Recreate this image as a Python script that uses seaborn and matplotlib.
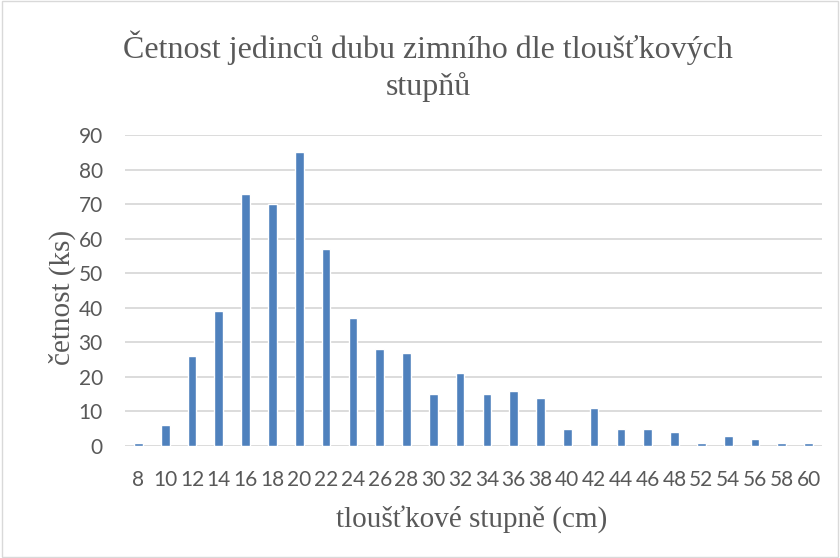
import matplotlib
matplotlib.use("Agg")
import matplotlib.pyplot as plt
import seaborn as sns
import pandas as pd
from matplotlib.patches import Rectangle

categories = ["8", "10", "12", "14", "16", "18", "20", "22", "24", "26", "28", "30", "32",
              "34", "36", "38", "40", "42", "44", "46", "48", "52", "54", "56", "58", "60"]
counts = [1, 6, 26, 39, 73, 70, 85, 57, 37, 28, 27, 15, 21,
          15, 16, 14, 5, 11, 5, 5, 4, 1, 3, 2, 1, 1]
yticks = [0, 10, 20, 30, 40, 50, 60, 70, 80, 90]

df = pd.DataFrame({"stupen": categories, "cetnost": counts})

sns.set_style("white")
fig = plt.figure(figsize=(8.4, 5.58), dpi=100)
ax = fig.add_axes([125 / 840, 1 - 446 / 558, 697 / 840, 311 / 558])

sns.barplot(data=df, x="stupen", y="cetnost", order=categories, color="#4f81bd",
            saturation=1, width=0.325, ax=ax, zorder=3)
ax.set_ylim(0, 90)
ax.set_xlim(-0.5, len(categories) - 0.5)
ax.set_yticks(yticks)
ax.yaxis.grid(True, color="#d9d9d9", linewidth=1.3, zorder=0)
ax.set_axisbelow(True)
for s in ax.spines.values():
    s.set_visible(False)
ax.tick_params(axis="both", length=0, labelsize=15, labelcolor="#595959")
ax.tick_params(axis="y", pad=16)
ax.tick_params(axis="x", pad=17)
for lab in ax.get_xticklabels() + ax.get_yticklabels():
    lab.set_family("Lato")

ax.set_xlabel("")
ax.set_ylabel("")
fig.text(472 / 840, 1 - 519 / 558, "tloušťkové stupně (cm)", ha="center", va="center",
         family="Liberation Serif", fontsize=21, color="#595959")
fig.text(62 / 840, 1 - 297 / 558, "četnost (ks)", ha="center", va="center", rotation=90,
         family="Liberation Serif", fontsize=21, color="#595959")

fig.text(428 / 840, 1 - 66 / 558, "Četnost jedinců dubu zimního dle tloušťkových\nstupňů",
         ha="center", va="center", family="Liberation Serif", fontsize=23,
         color="#595959", linespacing=1.32)

fig.patches.append(Rectangle((0.002, 0.002), 0.996, 0.996, transform=fig.transFigure,
                             fill=False, edgecolor="#d9d9d9", linewidth=1))

fig.savefig("out.png", dpi=100)
